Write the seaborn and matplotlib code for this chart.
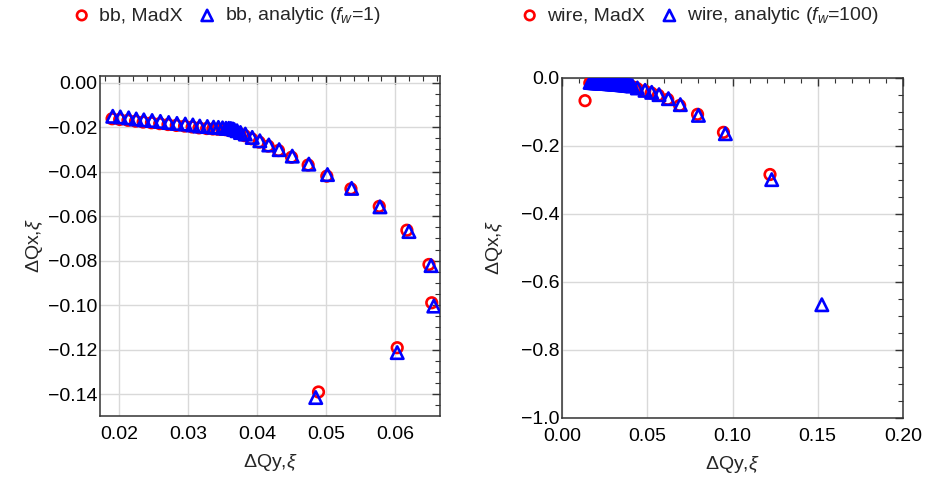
import matplotlib
matplotlib.use("Agg")
from matplotlib import pyplot as plt
from matplotlib.ticker import MultipleLocator, FuncFormatter
import seaborn as sns
import numpy as np

# %%
# bb panel (beam-beam), tune shifts
bb_madx_qy = [0.0190, 0.0201, 0.0213, 0.0224, 0.0235, 0.0247, 0.0259, 0.0271, 0.0283, 0.0295,
              0.0306, 0.0316, 0.0327, 0.0336, 0.0343, 0.0349, 0.0354, 0.0358, 0.0361, 0.0364,
              0.0366, 0.0370, 0.0375, 0.0382, 0.0392, 0.0403, 0.0416, 0.0431, 0.0450, 0.0474,
              0.0501, 0.0536, 0.0577, 0.0617, 0.0649, 0.0653, 0.0603, 0.0489]
bb_madx_qx = [-0.0162, -0.0165, -0.0169, -0.0173, -0.0177, -0.0180, -0.0184, -0.0188, -0.0192, -0.0195,
              -0.0199, -0.0203, -0.0206, -0.0208, -0.0209, -0.0210, -0.0211, -0.0212, -0.0213, -0.0215,
              -0.0218, -0.0223, -0.0230, -0.0238, -0.0252, -0.0267, -0.0285, -0.0305, -0.0335, -0.0370,
              -0.0420, -0.0477, -0.0556, -0.0663, -0.0817, -0.0989, -0.1191, -0.1390]
bb_ana_qy = [0.0191, 0.0202, 0.0214, 0.0225, 0.0236, 0.0248, 0.0260, 0.0272, 0.0284, 0.0296,
             0.0307, 0.0317, 0.0328, 0.0337, 0.0344, 0.0350, 0.0355, 0.0359, 0.0362, 0.0365,
             0.0367, 0.0371, 0.0376, 0.0383, 0.0393, 0.0404, 0.0417, 0.0432, 0.0451, 0.0475,
             0.0502, 0.0537, 0.0578, 0.0620, 0.0652, 0.0656, 0.0603, 0.0485]
bb_ana_qx = [-0.0151, -0.0154, -0.0158, -0.0163, -0.0167, -0.0170, -0.0174, -0.0179, -0.0183, -0.0186,
             -0.0190, -0.0195, -0.0197, -0.0200, -0.0201, -0.0203, -0.0205, -0.0205, -0.0206, -0.0208,
             -0.0211, -0.0216, -0.0224, -0.0231, -0.0246, -0.0261, -0.0280, -0.0301, -0.0330, -0.0366,
             -0.0413, -0.0475, -0.0558, -0.0669, -0.0822, -0.1004, -0.1213, -0.1415]

# wire panel
wire_madx_qy = [0.0135, 0.0163, 0.0171, 0.0179, 0.0187, 0.0195, 0.0204, 0.0213, 0.0222, 0.0231,
                0.0241, 0.0251, 0.0261, 0.0271, 0.0281, 0.0291, 0.0301, 0.0311, 0.0321, 0.0331,
                0.0340, 0.0349, 0.0358, 0.0367, 0.0376, 0.0385, 0.0394, 0.0403, 0.0412, 0.0440,
                0.0485, 0.0523, 0.0565, 0.0620, 0.0690, 0.0795, 0.0947, 0.1220]
wire_madx_qx = [-0.0668, -0.0150, -0.0153, -0.0156, -0.0159, -0.0162, -0.0165, -0.0168, -0.0171, -0.0174,
                -0.0177, -0.0180, -0.0184, -0.0188, -0.0192, -0.0196, -0.0200, -0.0204, -0.0208, -0.0212,
                -0.0216, -0.0220, -0.0225, -0.0230, -0.0235, -0.0240, -0.0246, -0.0252, -0.0258, -0.0310,
                -0.0380, -0.0440, -0.0510, -0.0630, -0.0810, -0.1070, -0.1600, -0.2840]
wire_ana_qy = [0.0165, 0.0172, 0.0180, 0.0188, 0.0196, 0.0205, 0.0214, 0.0223, 0.0232, 0.0242,
               0.0252, 0.0262, 0.0272, 0.0282, 0.0292, 0.0302, 0.0312, 0.0322, 0.0332, 0.0341,
               0.0350, 0.0359, 0.0368, 0.0377, 0.0386, 0.0395, 0.0404, 0.0413, 0.0442, 0.0487,
               0.0526, 0.0569, 0.0624, 0.0694, 0.0800, 0.0958, 0.1230, 0.1524]
wire_ana_qx = [-0.0130, -0.0133, -0.0136, -0.0139, -0.0142, -0.0145, -0.0148, -0.0151, -0.0154, -0.0157,
               -0.0160, -0.0163, -0.0167, -0.0171, -0.0175, -0.0179, -0.0183, -0.0187, -0.0191, -0.0195,
               -0.0199, -0.0203, -0.0208, -0.0213, -0.0218, -0.0223, -0.0229, -0.0235, -0.0294, -0.0364,
               -0.0423, -0.0491, -0.0609, -0.0785, -0.1100, -0.1640, -0.2990, -0.6670]

# %%
sns.set_theme(style="white")
plt.rcParams['font.family'] = ['Liberation Sans', 'DejaVu Sans']
plt.rcParams['mathtext.fontset'] = 'custom'
plt.rcParams['mathtext.rm'] = 'Liberation Sans'
plt.rcParams['mathtext.it'] = 'Liberation Sans:italic'

FS = 14


def minus_fmt(ndec):
    '''
    Tick labels with a real minus sign, Mathematica style
    '''
    def f(v, pos):
        s = f'{abs(v):.{ndec}f}'
        if round(v, ndec) < 0:
            return '\u2212' + s
        return s
    return FuncFormatter(f)


def style_axes(ax, xmajor, xminor, ymajor, yminor, xdec, ydec, xpad, xlabpad, ylabpad):
    '''
    Mathematica-like frame: ticks inside on all four sides, light grid
    '''
    ax.xaxis.set_major_locator(MultipleLocator(xmajor))
    ax.xaxis.set_minor_locator(MultipleLocator(xminor))
    ax.yaxis.set_major_locator(MultipleLocator(ymajor))
    ax.yaxis.set_minor_locator(MultipleLocator(yminor))
    ax.xaxis.set_major_formatter(minus_fmt(xdec))
    ax.yaxis.set_major_formatter(minus_fmt(ydec))
    ax.tick_params(which='both', direction='in', top=True, right=True, color='#333333',
                   labelsize=FS, labelcolor='black')
    ax.tick_params(which='major', length=6, width=1)
    ax.tick_params(which='minor', length=3.5, width=0.8)
    ax.tick_params(axis='x', pad=xpad)
    ax.tick_params(axis='y', pad=2)
    ax.grid(True, which='major', color='#d9d9d9', linewidth=1)
    ax.set_axisbelow(True)
    for sp in ax.spines.values():
        sp.set_color('#333333')
        sp.set_linewidth(1.1)
    ax.set_xlabel(r'ΔQy,$\xi$', fontsize=FS, labelpad=xlabpad)
    ax.set_ylabel(r'ΔQx,$\xi$', fontsize=FS, labelpad=ylabpad)


fig = plt.figure(figsize=(9.25, 4.86), dpi=100)
ax1 = fig.add_axes([0.1081, 0.144, 0.3676, 0.6996])
ax2 = fig.add_axes([0.6076, 0.140, 0.3686, 0.6996])

mk = dict(facecolor='none', linewidth=1.9, zorder=3)

sns.scatterplot(x=bb_madx_qy, y=bb_madx_qx, ax=ax1, marker='o', s=58, edgecolor='red',
                label='bb, MadX', **mk)
sns.scatterplot(x=bb_ana_qy, y=bb_ana_qx, ax=ax1, marker='^', s=80, edgecolor='blue',
                label=r'bb, analytic ($f_w$=1)', **mk)
ax1.set_xlim(0.01725, 0.0665)
ax1.set_ylim(-0.1498, 0.0030)
style_axes(ax1, 0.01, 0.002, 0.02, 0.005, 2, 2, xpad=7, xlabpad=7, ylabpad=2)

sns.scatterplot(x=wire_madx_qy, y=wire_madx_qx, ax=ax2, marker='o', s=58, edgecolor='red',
                label='wire, MadX', **mk)
sns.scatterplot(x=wire_ana_qy, y=wire_ana_qx, ax=ax2, marker='^', s=80, edgecolor='blue',
                label=r'wire, analytic ($f_w$=100)', **mk)
ax2.set_xlim(0.0, 0.20)
ax2.set_ylim(-1.0, 0.0)
style_axes(ax2, 0.05, 0.01, 0.2, 0.05, 2, 1, xpad=7, xlabpad=7, ylabpad=11)

for ax, x0 in [(ax1, 72 / 925), (ax2, 520 / 925)]:
    ax.legend(loc='center left', bbox_to_anchor=(x0, 1 - 16 / 486), bbox_transform=fig.transFigure,
              ncol=2, frameon=False, fontsize=FS, handlelength=1.0, handletextpad=0.4,
              columnspacing=0.75, borderaxespad=0, borderpad=0, markerscale=0.9)

fig.savefig('out.png', dpi=100)
